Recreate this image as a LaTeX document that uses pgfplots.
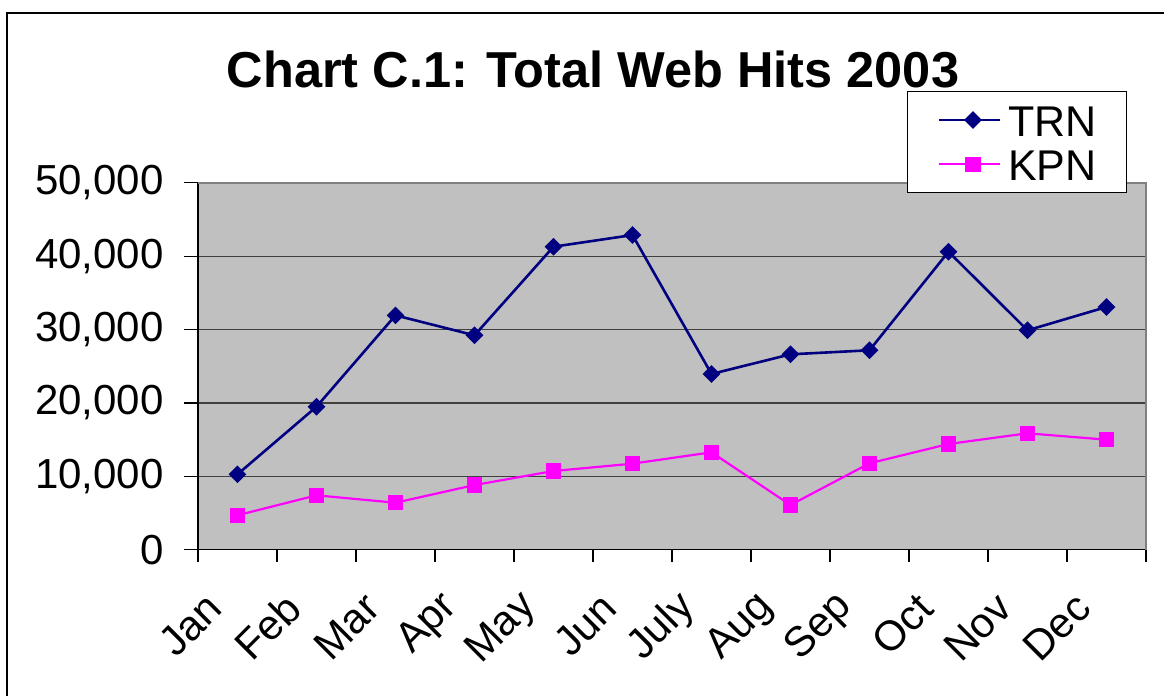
\documentclass[border=0pt]{standalone}
\usepackage{fontspec}
\setmainfont{Liberation Sans}
\usepackage{pgfplots}
\pgfplotsset{compat=1.18}
\definecolor{trn}{RGB}{0,0,128}
\definecolor{kpn}{RGB}{255,0,255}
\definecolor{plotbg}{RGB}{192,192,192}
\definecolor{plotframe}{RGB}{128,128,128}
\begin{document}
\begin{tikzpicture}
\useasboundingbox (0,0) rectangle (582pt,-348pt);
\draw[line width=1pt] (582pt,-6.5pt) -- (3.5pt,-6.5pt) -- (3.5pt,-348pt);
\node[font=\bfseries\fontsize{25.25}{30}\selectfont] at (296.5pt,-34.5pt) {Chart C.1: Total Web Hits 2003};
\begin{axis}[
  at={(99pt,-274.85pt)}, anchor=south west,
  scale only axis, width=474pt, height=183.5pt,
  xmin=0.5, xmax=12.5, ymin=0, ymax=50000,
  axis x line*=bottom, axis y line*=left,
  axis line style={line width=0.6pt, black, -},
  axis background/.style={fill=plotbg},
  ymajorgrids=true,
  grid style={line width=0.6pt, black!75},
  ytick={0,10000,20000,30000,40000,50000},
  xtick={1,...,12},
  xticklabels={Jan,Feb,Mar,Apr,May,Jun,July,Aug,Sep,Oct,Nov,Dec},
  minor xtick={0.5,1.5,...,12.5},
  major x tick style={draw=none},
  tick align=outside,
  major tick length=7pt, minor tick length=6pt,
  tick style={line width=0.6pt, black},
  scaled y ticks=false,
  /pgf/number format/.cd, 1000 sep={,}, assume math mode=true, /pgfplots/.cd,
  tick label style={font=\fontsize{21}{25}\selectfont},
  yticklabel style={anchor=east, inner sep=0pt, xshift=-10pt},
  xticklabel style={xshift=-11.5pt, yshift=-18.5pt, rotate=45, anchor=east, inner sep=0pt},
  clip=false,
  legend style={at={(axis description cs:0.748,1.2499)}, anchor=north west,
    draw=black, line width=0.6pt, fill=white,
    font=\fontsize{21.5}{25}\selectfont,
    inner xsep=15pt, inner ysep=6.2pt, row sep=6.15pt,
    nodes={inner sep=0pt, text height=16pt, text depth=0pt},
    /tikz/every odd column/.append style={column sep=3.5pt}},
  legend cell align=left,
  legend image code/.code={
    \path (0pt,0pt) -- (3.5pt,0pt);
    \draw[mark repeat=2,mark phase=2,#1] plot coordinates {(3.5pt,0pt) (17pt,0pt) (30.5pt,0pt)};},
]
\addplot[trn, line width=1.3pt, mark=square*, mark size=2.47pt, mark options={rotate=45, solid}]
  coordinates {(1,10270) (2,19480) (3,31930) (4,29210) (5,41280) (6,42870)
               (7,23940) (8,26620) (9,27170) (10,40600) (11,29890) (12,33070)};
\addlegendentry{TRN}
\addplot[kpn, line width=1.1pt, mark=square*, mark size=3.3pt, mark options={solid}]
  coordinates {(1,4690) (2,7410) (3,6400) (4,8810) (5,10720) (6,11720)
               (7,13270) (8,6090) (9,11770) (10,14400) (11,15860) (12,14990)};
\addlegendentry{KPN}
\draw[plotframe, line width=1pt] (rel axis cs:0,1) -- (rel axis cs:1,1) -- (rel axis cs:1,0);
\end{axis}
\end{tikzpicture}
\end{document}
